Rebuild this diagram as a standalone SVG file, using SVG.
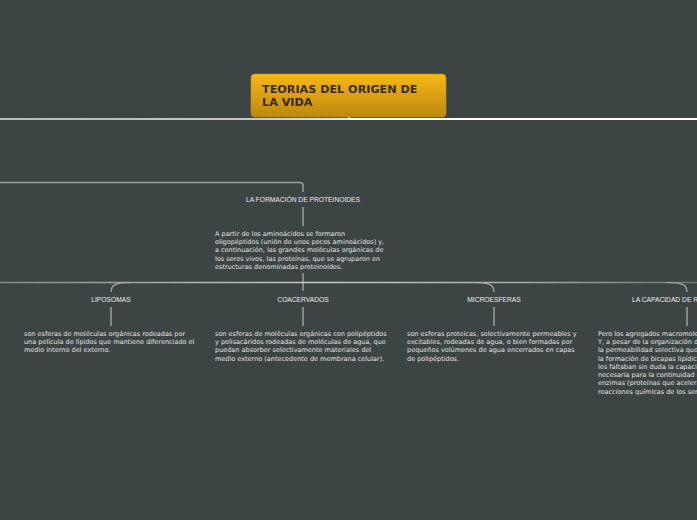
<svg xmlns="http://www.w3.org/2000/svg" width="697" height="520" viewBox="0 0 697 520">
  <defs>
    <linearGradient id="rootFill" x1="0" y1="0" x2="0" y2="1">
      <stop offset="0" stop-color="#f8b817"/>
      <stop offset="1" stop-color="#bd880f"/>
    </linearGradient>
    <linearGradient id="topLeft" x1="0" y1="0" x2="349" y2="0" gradientUnits="userSpaceOnUse">
      <stop offset="0" stop-color="#b9bcbc"/>
      <stop offset="0.7" stop-color="#c4c6c6"/>
      <stop offset="1" stop-color="#e8e8e8"/>
    </linearGradient>
    <linearGradient id="hub" x1="0" y1="0" x2="697" y2="0" gradientUnits="userSpaceOnUse">
      <stop offset="0" stop-color="#858a8a"/>
      <stop offset="0.45" stop-color="#c9cbcb"/>
      <stop offset="0.75" stop-color="#a9acac"/>
      <stop offset="1" stop-color="#6f7575"/>
    </linearGradient>
    <style>
      .lbl { font-family: "Liberation Sans", Arial, sans-serif; font-size: 6.7px; fill: #ececec; }
      .para { font-family: "DejaVu Sans", Verdana, sans-serif; font-size: 6.5px; fill: #e2e2e2; }
      .conn { fill: none; stroke: #9b9f9f; stroke-width: 1.5; }
      .branch { fill: none; stroke: #a9adad; stroke-width: 1.2; }
      .root-text { font-family: "DejaVu Sans", Verdana, sans-serif; font-size: 11.2px; font-weight: bold; fill: #3a2a0b; }
    </style>
  </defs>

  <rect x="0" y="0" width="697" height="520" fill="#3d4444"/>

  <g id="connectors">
    <line x1="0" y1="119" x2="349" y2="119" stroke="url(#topLeft)" stroke-width="2"/>
    <line x1="349" y1="119" x2="697" y2="119" stroke="#ffffff" stroke-width="2"/>
    <line x1="349" y1="116" x2="349" y2="119" stroke="#ffffff" stroke-width="2"/>

    <path class="conn" d="M0 182.5 H300 Q303 182.5 303 185.5 V192"/>
    <line class="conn" x1="303" y1="207" x2="303" y2="226"/>
    <line class="conn" x1="303" y1="273" x2="303" y2="291"/>

    <line x1="0" y1="282.5" x2="697" y2="282.5" stroke="url(#hub)" stroke-width="1.5"/>
    <path class="branch" d="M132 282.5 C115 282.5 111 285 111 292"/>
    <path class="branch" d="M473 282.5 C490 282.5 494 285 494 292"/>
    <path class="branch" d="M666 282.5 C683 282.5 687 285 687 292"/>

    <line class="conn" x1="111" y1="307" x2="111" y2="326"/>
    <line class="conn" x1="303" y1="307" x2="303" y2="326"/>
    <line class="conn" x1="494" y1="307" x2="494" y2="326"/>
    <line class="conn" x1="687" y1="307" x2="687" y2="326"/>
  </g>

  <g id="root">
    <rect x="251" y="74" width="195" height="43" rx="4" ry="4" fill="url(#rootFill)" stroke="#c8920f" stroke-width="0.6"/>
    <text class="root-text" x="262" y="93">TEORIAS DEL ORIGEN DE</text>
    <text class="root-text" x="262" y="105.5">LA VIDA</text>
  </g>

  <g id="proteinoides">
    <text class="lbl" x="303" y="201.7" text-anchor="middle">LA FORMACIÓN DE PROTEINOIDES</text>
  </g>

  <g id="proteinoides-text">
    <text class="para" x="215" y="235.6">A partir de los aminoácidos se formaron</text>
    <text class="para" x="215" y="243.9">oligopéptidos (unión de unos pocos aminoácidos) y,</text>
    <text class="para" x="215" y="252.2">a continuación, las grandes moléculas orgánicas de</text>
    <text class="para" x="215" y="260.5">los seres vivos, las proteínas, que se agruparon en</text>
    <text class="para" x="215" y="268.8">estructuras denominadas proteinoides.</text>
  </g>

  <g id="liposomas">
    <text class="lbl" x="111" y="301.7" text-anchor="middle">LIPOSOMAS</text>
  </g>
  <g id="liposomas-text">
    <text class="para" x="24" y="335.6">son esferas de moléculas orgánicas rodeadas por</text>
    <text class="para" x="24" y="343.9">una película de lípidos que mantiene diferenciado el</text>
    <text class="para" x="24" y="352.2">medio interno del externo.</text>
  </g>

  <g id="coacervados">
    <text class="lbl" x="303" y="301.7" text-anchor="middle">COACERVADOS</text>
  </g>
  <g id="coacervados-text">
    <text class="para" x="215" y="335.6">son esferas de moléculas orgánicas con polipéptidos</text>
    <text class="para" x="215" y="343.9">y polisacáridos rodeadas de moléculas de agua, que</text>
    <text class="para" x="215" y="352.2">puedan absorber selectivamente materiales del</text>
    <text class="para" x="215" y="360.5">medio externo (antecedente de membrana celular).</text>
  </g>

  <g id="microesferas">
    <text class="lbl" x="494" y="301.7" text-anchor="middle">MICROESFERAS</text>
  </g>
  <g id="microesferas-text">
    <text class="para" x="407" y="335.6">son esferas proteicas, selectivamente permeables y</text>
    <text class="para" x="407" y="343.9">excitables, rodeadas de agua, o bien formadas por</text>
    <text class="para" x="407" y="352.2">pequeños volúmenes de agua encerrados en capas</text>
    <text class="para" x="407" y="360.5">de polipéptidos.</text>
  </g>

  <g id="replicacion">
    <text class="lbl" x="632" y="301.7">LA CAPACIDAD DE REPLICACIÓN</text>
  </g>
  <g id="replicacion-text">
    <text class="para" x="598" y="335.6">Pero los agregados macromoleculares no eran vivos.</text>
    <text class="para" x="598" y="343.9">Y, a pesar de la organización de sus moléculas y</text>
    <text class="para" x="598" y="352.2">la permeabilidad selectiva que les confería</text>
    <text class="para" x="598" y="360.5">la formación de bicapas lipídicas,</text>
    <text class="para" x="598" y="368.8">les faltaban sin duda la capacidad de replicación,</text>
    <text class="para" x="598" y="377.1">necesaria para la continuidad de la vida, y</text>
    <text class="para" x="598" y="385.4">enzimas (proteínas que aceleran las</text>
    <text class="para" x="598" y="393.7">reacciones químicas de los seres vivos).</text>
  </g>
</svg>
